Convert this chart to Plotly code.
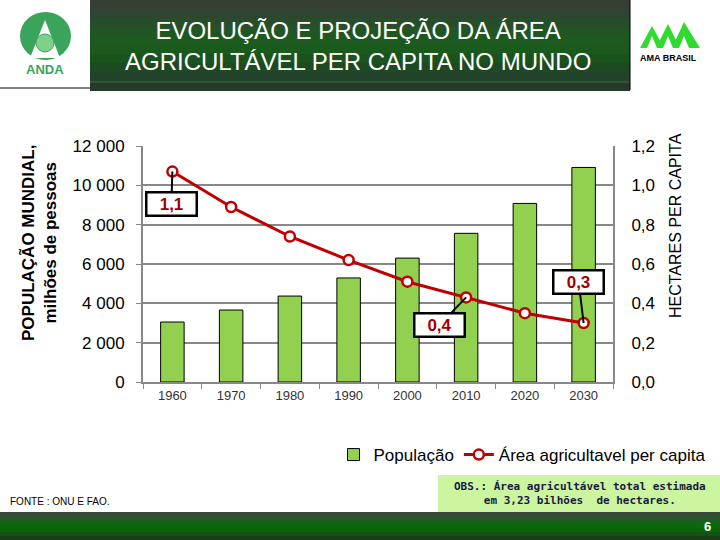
import plotly.graph_objects as go

years = ["1960", "1970", "1980", "1990", "2000", "2010", "2020", "2030"]
population = [3050, 3660, 4370, 5290, 6300, 7560, 9080, 10910]
area_per_capita = [1.07, 0.89, 0.74, 0.62, 0.51, 0.43, 0.35, 0.30]
left_ticks = [0, 2000, 4000, 6000, 8000, 10000, 12000]
right_ticks = [0.0, 0.2, 0.4, 0.6, 0.8, 1.0, 1.2]
callout_idx = [0, 5, 7]

W, H = 720, 540
def px(x):
    return x / W
def py(y):
    return 1 - y / H

fig = go.Figure()
fig.add_bar(x=years, y=population, name="População", width=0.4,
            marker=dict(color="#92d050", line=dict(color="black", width=1)))
fig.add_scatter(x=years, y=area_per_capita, yaxis="y2", name="Área agricultavel per capita",
                mode="lines+markers",
                line=dict(color="#c00000", width=3),
                marker=dict(symbol="circle", size=10, color="white",
                            line=dict(color="#c00000", width=2.5)))

shapes = []
# header gradient band
header_cols = ["#353f35", "#2f4531", "#284d2a", "#215524", "#1c5a1f", "#1a5a1d", "#1b531e", "#1d4a20", "#22422a", "#263a2a"]
band_h = 90 / len(header_cols)
for i, c in enumerate(header_cols):
    shapes.append(dict(type="rect", xref="paper", yref="paper",
                       x0=px(90), x1=px(630), y0=py(band_h * (i + 1) + 1), y1=py(band_h * i),
                       fillcolor=c, line=dict(width=0), layer="below"))
shapes.append(dict(type="line", xref="paper", yref="paper", x0=px(90), x1=px(630),
                   y0=py(82), y1=py(82), line=dict(color="#4d6a4d", width=1)))
shapes.append(dict(type="line", xref="paper", yref="paper", x0=px(0), x1=px(90),
                   y0=py(88), y1=py(88), line=dict(color="black", width=1)))
shapes.append(dict(type="line", xref="paper", yref="paper", x0=px(630), x1=px(630),
                   y0=py(0), y1=py(90), line=dict(color="black", width=1)))
# footer gradient band
foot_cols = ["#3a4a3a", "#2c552c", "#1a601a", "#0c680c", "#0a640a", "#125212", "#1a3c1a"]
fh = 28 / len(foot_cols)
for i, c in enumerate(foot_cols):
    shapes.append(dict(type="rect", xref="paper", yref="paper",
                       x0=0, x1=1, y0=py(512 + fh * (i + 1) + 1), y1=py(512 + fh * i),
                       fillcolor=c, line=dict(width=0), layer="below"))
# OBS box
shapes.append(dict(type="rect", xref="paper", yref="paper", x0=px(438), x1=1,
                   y0=py(512), y1=py(475), fillcolor="#ccf5a0", line=dict(width=0), layer="below"))
# ANDA logo
shapes.append(dict(type="circle", xref="paper", yref="paper", x0=px(20), x1=px(71),
                   y0=py(60), y1=py(12), fillcolor="#3aa55a", line=dict(width=0)))
shapes.append(dict(type="path", xref="paper", yref="paper",
                   path=f"M {px(45)} {py(20)} L {px(30)} {py(58)} L {px(60)} {py(58)} Z",
                   fillcolor="white", line=dict(width=0)))
shapes.append(dict(type="circle", xref="paper", yref="paper", x0=px(36), x1=px(54),
                   y0=py(52), y1=py(34), fillcolor="#7fd08a", line=dict(color="#3aa55a", width=1)))
# AMA logo
ama = [(640, 48, 652, 26, 664, 48), (656, 48, 668, 24, 680, 48), (672, 48, 684, 22, 700, 48)]
for x0, y0, xm, ym, x1, y1 in ama:
    shapes.append(dict(type="path", xref="paper", yref="paper",
                       path=f"M {px(x0)} {py(y0)} L {px(xm)} {py(ym)} L {px(x1)} {py(y1)} Z",
                       fillcolor="#2edb2e", line=dict(width=0)))
for cx in [652, 668, 684]:
    shapes.append(dict(type="path", xref="paper", yref="paper",
                       path=f"M {px(cx)} {py(36)} L {px(cx-5)} {py(48)} L {px(cx+5)} {py(48)} Z",
                       fillcolor="white", line=dict(width=0)))

def txt(text, x, y, size, color, family="Arial", angle=0, xanchor="center", align="center"):
    return dict(text=text, xref="paper", yref="paper", x=px(x), y=py(y), showarrow=False,
                xanchor=xanchor, yanchor="middle", textangle=angle, align=align,
                font=dict(family=family, size=size, color=color))

annotations = [
    txt("EVOLUÇÃO E PROJEÇÃO DA ÁREA<br>AGRICULTÁVEL PER CAPITA NO MUNDO", 358, 46, 24, "white"),
    txt("<b>ANDA</b>", 45, 69, 13, "#3aa55a"),
    txt("<b>AMA BRASIL</b>", 668, 58, 9, "black"),
    txt("<b>POPULAÇÃO MUNDIAL,<br>milhões de pessoas</b>", 39, 243, 17, "black", angle=-90),
    txt("HECTARES PER CAPITA", 675, 226, 16, "black", angle=-90),
    txt("FONTE : ONU E FAO.", 8, 501, 10, "black", xanchor="left"),
    txt("<b>OBS.: Área agricultável total estimada<br>em 3,23 bilhões  de hectares.</b>",
        580, 493, 11, "#1a1a40", family="DejaVu Sans Mono"),
    txt("<b>6</b>", 707, 526, 13, "white"),
]
offsets = {0: (-1, 32), 5: (-27, 28), 7: (-5, -41)}
for i in callout_idx:
    ax, ay = offsets[i]
    annotations.append(dict(
        x=i, y=area_per_capita[i], xref="x", yref="y2",
        text=f"<b>{area_per_capita[i]:.1f}</b>".replace(".", ","),
        showarrow=True, arrowhead=0, arrowwidth=2, arrowcolor="black",
        ax=ax, ay=ay, standoff=0,
        bgcolor="white", bordercolor="black", borderwidth=2.5, borderpad=1,
        width=46, height=19,
        font=dict(family="Arial", size=17, color="#a00000")))

fig.update_layout(
    width=W, height=H, margin=dict(l=0, r=0, t=0, b=0, autoexpand=False),
    paper_bgcolor="white", plot_bgcolor="white",
    separators=", ",
    font=dict(family="Arial", color="black"),
    showlegend=True,
    legend=dict(orientation="h", x=0.725, xanchor="center", y=py(455), yanchor="middle",
                font=dict(family="Arial", size=17, color="black"), bgcolor="rgba(0,0,0,0)"),
    xaxis=dict(type="category", domain=[px(143), px(613)], anchor="y", range=[-0.5, 7.5],
               automargin=False,
               showline=True, linecolor="#888888", linewidth=2,
               ticks="outside", tickson="boundaries", ticklen=5, tickcolor="#888888",
               tickfont=dict(family="Arial", size=13, color="#333333"), showgrid=False),
    yaxis=dict(domain=[py(382), py(146)], range=[0, 12000], tickvals=left_ticks,
               automargin=False,
               tickformat=",d", showgrid=True, gridcolor="#888888", gridwidth=2,
               showline=True, linecolor="#888888", linewidth=2,
               ticks="outside", ticklen=5, tickcolor="#888888", ticklabelstandoff=8,
               tickfont=dict(family="Arial", size=17, color="black"), zeroline=False),
    yaxis2=dict(overlaying="y", side="right", range=[0, 1.2], tickvals=right_ticks,
                automargin=False,
                tickformat=".1f", showgrid=False, showline=True, linecolor="#888888", linewidth=2,
                ticks="", ticklabelstandoff=13, anchor="x",
                tickfont=dict(family="Arial", size=17, color="black"), zeroline=False),
    shapes=shapes, annotations=annotations,
)
post = ("var s=document.createElement('style');"
        "s.innerHTML='html,body{margin:0 !important;padding:0 !important;overflow:hidden;}';"
        "document.head.appendChild(s);")
fig.write_html("out.html", post_script=post, config={"displayModeBar": False})
